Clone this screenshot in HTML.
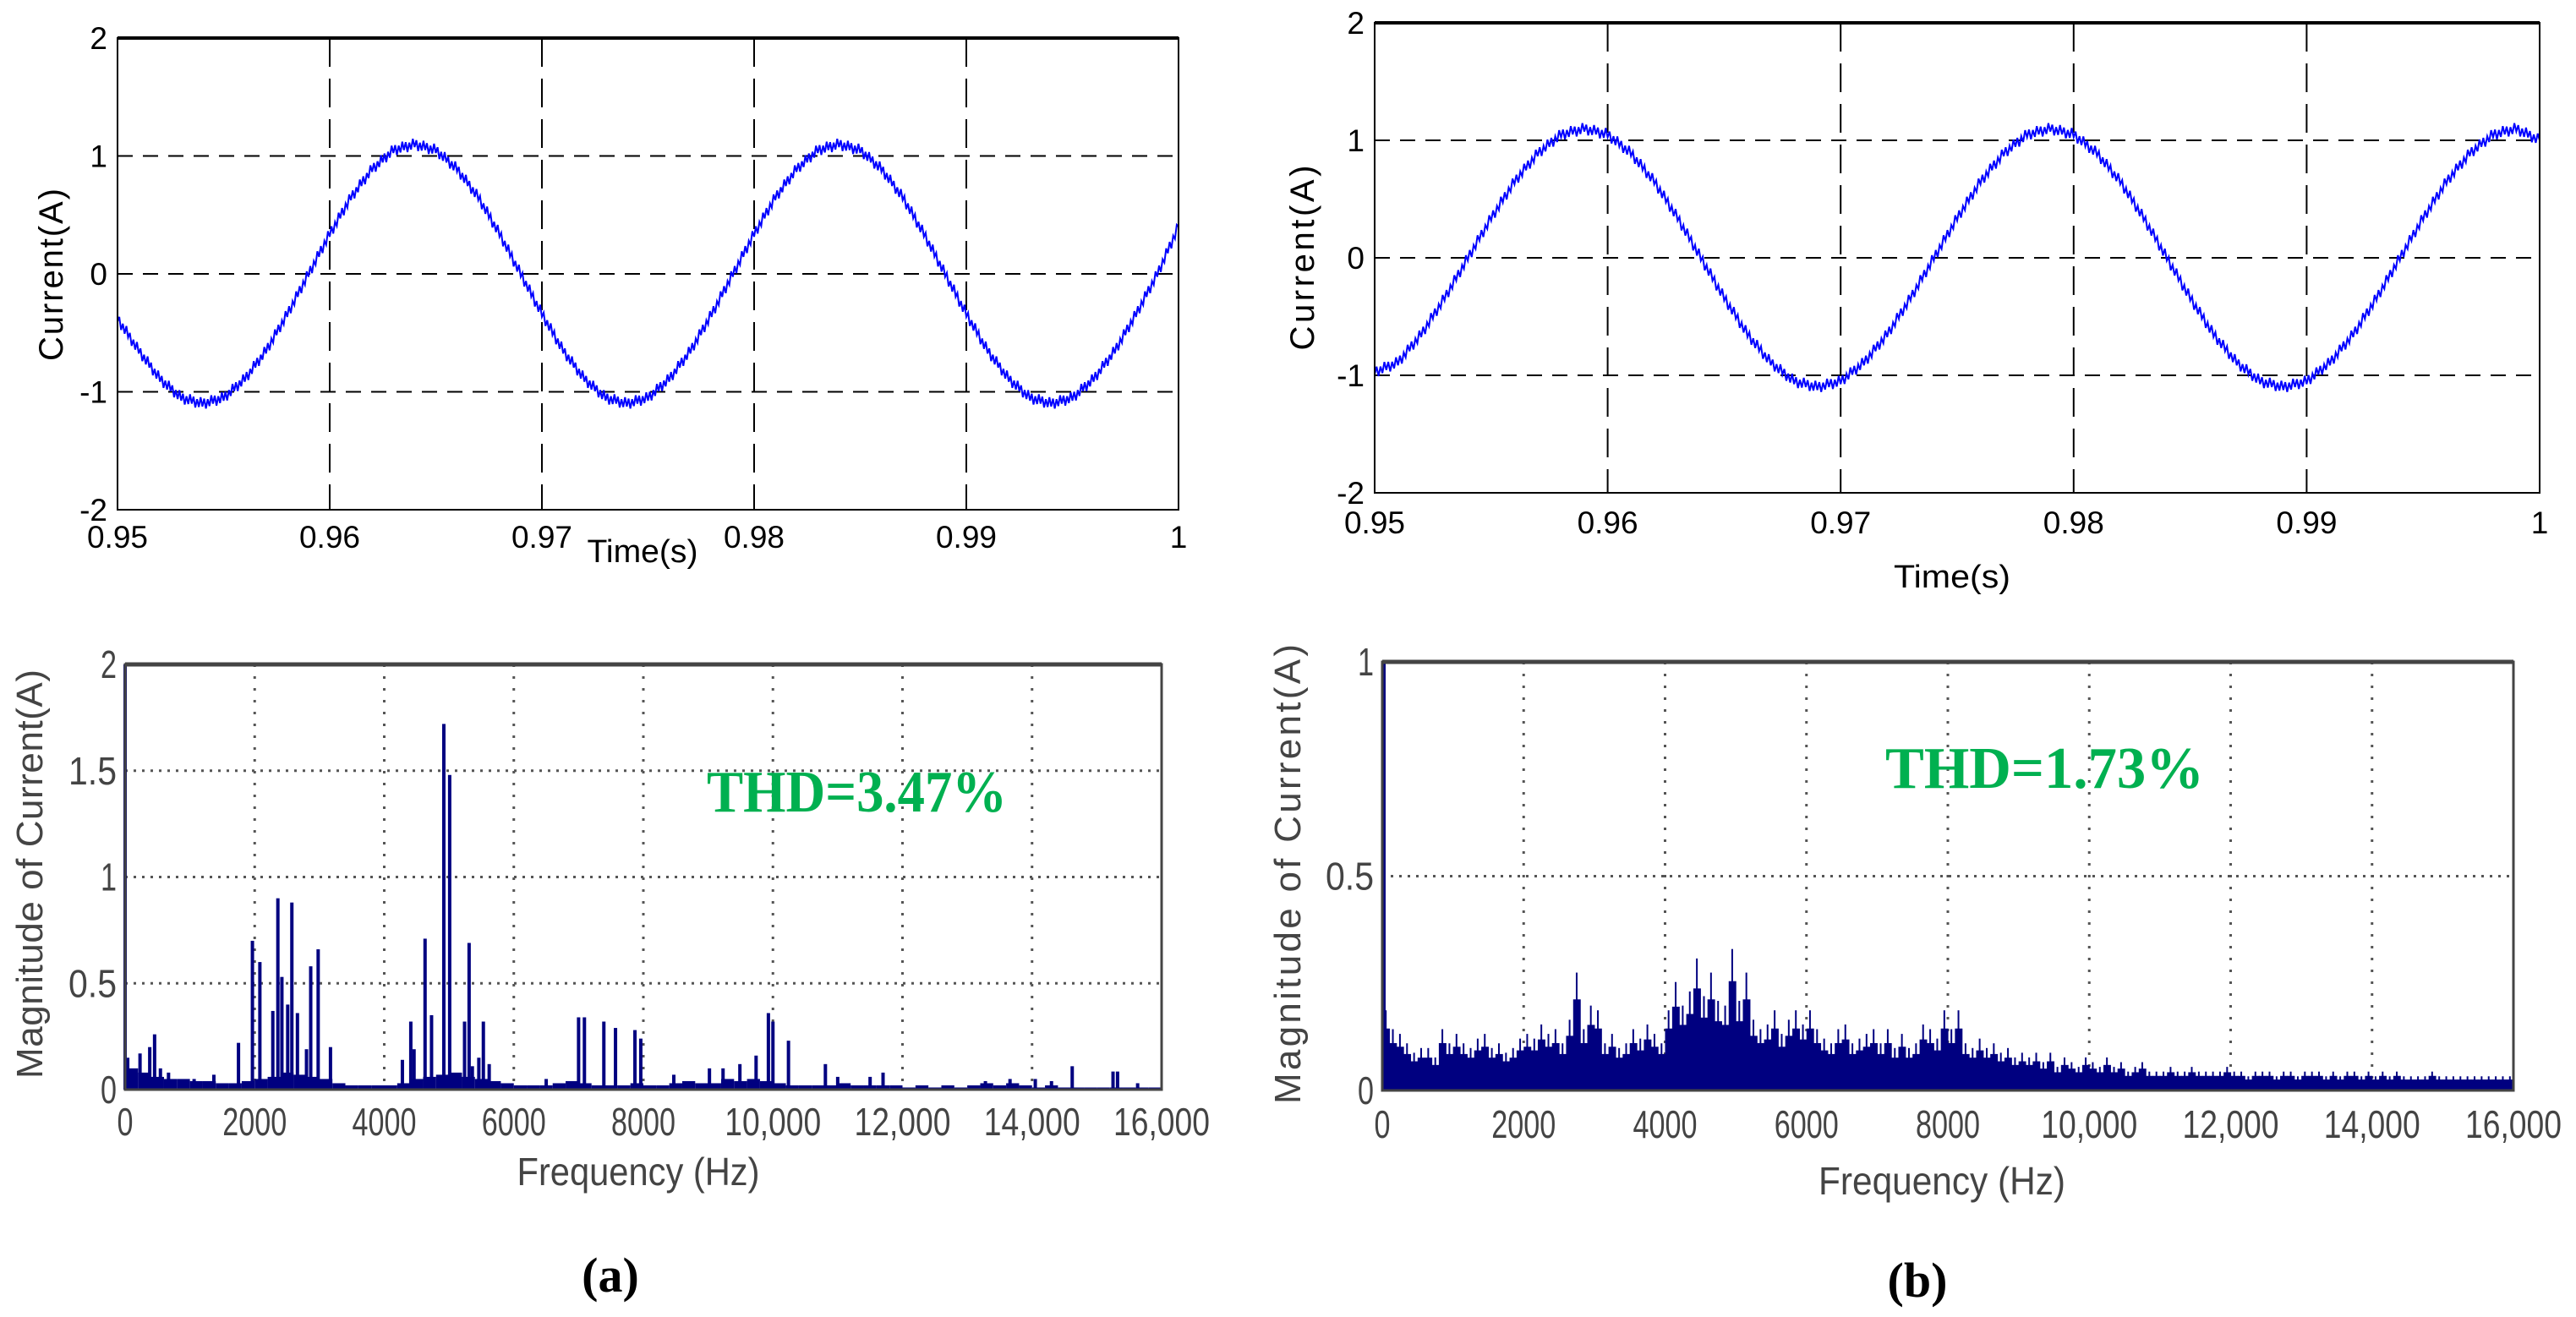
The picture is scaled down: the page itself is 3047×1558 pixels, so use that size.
<!DOCTYPE html>
<html><head><meta charset="utf-8"><style>
html,body{margin:0;padding:0;background:#fff;}
svg{display:block;}
text{font-family:"Liberation Sans",sans-serif;}
</style></head><body>
<svg id="fig" width="3047" height="1558" viewBox="0 0 3047 1558" xmlns="http://www.w3.org/2000/svg"></svg>
<script>
// ---------- data ----------
const timeTicks = [0.95,0.96,0.97,0.98,0.99,1];
const timeTickLabels = ["0.95","0.96","0.97","0.98","0.99","1"];
const curTicks = [-2,-1,0,1,2];
const curTickLabels = ["-2","-1","0","1","2"];
// current samples every 1 ms from 0.950 to 1.000
const currentA = [-0.38,-0.65,-0.89,-1.05,-1.1,-1.05,-0.89,-0.65,-0.34,0,0.34,0.65,0.89,1.05,1.1,1.05,0.89,0.65,0.34,0,-0.34,-0.65,-0.89,-1.05,-1.1,-1.05,-0.89,-0.65,-0.34,0,0.34,0.65,0.89,1.05,1.1,1.05,0.89,0.65,0.34,0,-0.34,-0.65,-0.89,-1.05,-1.1,-1.05,-0.89,-0.65,-0.34,0,0.4];
const currentB = [-0.97,-0.89,-0.65,-0.34,0,0.34,0.65,0.89,1.05,1.1,1.05,0.89,0.65,0.34,0,-0.34,-0.65,-0.89,-1.05,-1.1,-1.05,-0.89,-0.65,-0.34,0,0.34,0.65,0.89,1.05,1.1,1.05,0.89,0.65,0.34,0,-0.34,-0.65,-0.89,-1.05,-1.1,-1.05,-0.89,-0.65,-0.34,0,0.34,0.65,0.89,1.05,1.1,1.0];

const freqTicks = [0,2000,4000,6000,8000,10000,12000,14000,16000];
const freqTickLabels = ["0","2000","4000","6000","8000","10,000","12,000","14,000","16,000"];
const magTicksA = [0,0.5,1,1.5,2];
const magTickLabelsA = ["0","0.5","1","1.5","2"];
const magTicksB = [0,0.5,1];
const magTickLabelsB = ["0","0.5","1"];

// spectrum (a): distinct harmonic lines
const specAFreq = [0,40,230,380,455,545,670,1065,1370,1750,1965,2080,2280,2358,2420,2510,2574,2660,2800,2865,2980,3170,4280,4410,4460,4630,4730,4920,5010,5240,5310,5360,5460,5530,5620,6500,7000,7090,7390,7570,7870,7960,8470,9020,9230,9490,9740,9930,10000,10240,10810,11000,11500,11700,13280,13660,14050,14300,14620,15250,15320,15630];
const specAMag = [2.2,0.15,0.17,0.2,0.26,0.1,0.08,0.05,0.07,0.22,0.7,0.6,0.37,0.9,0.53,0.4,0.88,0.36,0.19,0.58,0.66,0.2,0.14,0.32,0.19,0.71,0.35,1.72,1.48,0.32,0.69,0.11,0.15,0.32,0.12,0.05,0.34,0.34,0.32,0.29,0.28,0.24,0.07,0.1,0.1,0.12,0.16,0.36,0.32,0.23,0.12,0.06,0.06,0.08,0.04,0.05,0.05,0.04,0.11,0.085,0.085,0.03];
// spectrum (a): noise floor, 200 Hz bins
const specAFloor = [0.1,0.08,0.06,0.05,0.05,0.04,0.04,0.03,0.03,0.04,0.05,0.06,0.08,0.07,0.06,0.05,0.03,0.02,0.02,0.02,0.02,0.03,0.05,0.06,0.07,0.08,0.06,0.05,0.04,0.03,0.02,0.02,0.02,0.03,0.04,0.03,0.02,0.02,0.02,0.03,0.02,0.02,0.03,0.04,0.03,0.03,0.05,0.04,0.05,0.04,0.03,0.02,0.02,0.02,0.02,0.03,0.02,0.02,0.02,0.02,0.01,0.02,0.01,0.02,0.01,0.02,0.03,0.02,0.03,0.02,0.01,0.02,0.01,0.01,0.01,0.01,0.01,0.01,0.01,0.01];
// spectrum (b): 100 Hz bins
const specB = [0.17,0.13,0.12,0.1,0.08,0.09,0.09,0.07,0.13,0.1,
0.12,0.1,0.09,0.11,0.12,0.09,0.1,0.08,0.09,0.11,
0.12,0.11,0.14,0.12,0.13,0.1,0.15,0.25,0.13,0.18,
0.17,0.1,0.12,0.09,0.1,0.13,0.11,0.14,0.12,0.1,
0.17,0.23,0.18,0.21,0.28,0.2,0.25,0.19,0.18,0.3,
0.19,0.25,0.15,0.13,0.14,0.17,0.12,0.15,0.17,0.14,
0.17,0.13,0.11,0.1,0.13,0.14,0.1,0.11,0.12,0.13,
0.1,0.13,0.09,0.12,0.09,0.1,0.14,0.13,0.11,0.17,
0.13,0.17,0.1,0.09,0.11,0.09,0.1,0.08,0.09,0.07,
0.08,0.07,0.08,0.06,0.08,0.05,0.07,0.06,0.05,0.07,
0.06,0.05,0.07,0.05,0.06,0.04,0.05,0.06,0.04,0.04,
0.04,0.05,0.04,0.04,0.05,0.04,0.04,0.04,0.04,0.05,
0.04,0.04,0.03,0.04,0.04,0.04,0.03,0.04,0.04,0.03,
0.04,0.04,0.04,0.03,0.04,0.03,0.04,0.04,0.03,0.04,
0.03,0.04,0.03,0.04,0.03,0.03,0.03,0.03,0.04,0.03,
0.03,0.03,0.03,0.03,0.03,0.03,0.03,0.03,0.03,0.03];
const specBFund = 1.05;

// ---------- helpers ----------
const NS = "http://www.w3.org/2000/svg";
const svg = document.getElementById('fig');
function mk(tag, attrs, parent){ const e=document.createElementNS(NS,tag); for(const k in attrs) e.setAttribute(k,attrs[k]); (parent||svg).appendChild(e); return e; }
function txt(s, attrs, parent){ const e=mk('text',attrs,parent); e.textContent=s; return e; }
function lin(d0,d1,r0,r1){ return v=> r0+(v-d0)*(r1-r0)/(d1-d0); }

// ---------- time-domain plot ----------
function timePlot(o, data){
  const g = mk('g',{});
  
  
  const X = lin(0.95,1,o.l,o.r), Y = lin(-2,2,o.b,o.t);
  curTicks.forEach((v,i)=>{
    if(v>-2 && v<2){ const l=mk('line',{x1:o.l,x2:o.r,y1:Y(v),y2:Y(v),stroke:'#000','stroke-width':2,'stroke-dasharray':'18 12'},g);
        }
    const t=txt(curTickLabels[i],{x:o.ytx,y:Y(v)+13,'text-anchor':'end','font-size':37,fill:'#000'},g);
     
  });
  timeTicks.forEach((v,i)=>{
    if(v>0.95 && v<1){ const l=mk('line',{x1:X(v),x2:X(v),y1:o.t,y2:o.b,stroke:'#000','stroke-width':2,'stroke-dasharray':'34 14'},g);
        }
    const t=txt(timeTickLabels[i],{x:X(v),y:o.xty,'text-anchor':'middle','font-size':37,fill:'#000'},g);
     
  });
  let pts=[];
  for(let i=0;i<data.length-1;i++){
    for(let k=0;k<12;k++){
      const f=k/12, t=0.95+(i+f)*0.001, v=data[i]+(data[i+1]-data[i])*f;
      const j=((i*12+k)%2?1:-1)*0.025*(1+((i*12+k)%3)*0.5);
      pts.push(X(t).toFixed(1)+','+Y(v+j).toFixed(1));
    }
  }
  pts.push(X(1)+','+Y(data[data.length-1]));
  const pl=mk('polyline',{points:pts.join(' '),fill:'none',stroke:'#0000ff','stroke-width':2},g);
   
  const fr=mk('rect',{x:o.l,y:o.t,width:o.r-o.l,height:o.b-o.t,fill:'none',stroke:'#000','stroke-width':2},g);
   
  mk('line',{x1:o.l,x2:o.r,y1:o.t,y2:o.t,stroke:'#000','stroke-width':4},g);
  const yl=txt('Current(A)',{x:0,y:0,'font-size':40,'text-anchor':'middle',textLength:o.ylLen,lengthAdjust:'spacing',transform:`translate(${o.ylx},${o.yly}) rotate(-90)`},g);
   
  const xl=txt('Time(s)',{x:o.xlx,y:o.xly,'font-size':38,'text-anchor':'middle',textLength:o.xlLen,lengthAdjust:'spacingAndGlyphs'},g);
   
}

timePlot({name:'current-plot-a',l:139,r:1394,t:45,b:603,ytx:127,xty:648,ylx:74,yly:325,ylLen:204,xlx:760,xly:665,xlLen:131}, currentA);
timePlot({name:'current-plot-b',l:1626,r:3004,t:27,b:583,ytx:1614,xty:631,ylx:1554,yly:305,ylLen:219,xlx:2309,xly:695,xlLen:138}, currentB);

// ---------- spectrum plot ----------
function specPlot(o){
  const g = mk('g',{});
  
  
  const X = lin(0,16000,o.l,o.r), Y = lin(0,o.ymax,o.b,o.t);
  o.yt.forEach((v,i)=>{
    if(v>0 && v<o.ymax){ const l=mk('line',{x1:o.l,x2:o.r,y1:Y(v),y2:Y(v),stroke:'#555','stroke-width':3,'stroke-dasharray':'3 7'},g);
        }
    const t=txt(o.ytl[i],{x:o.l-10,y:Y(v)+16,'text-anchor':'end','font-size':46,fill:'#444',textLength:o.ytl[i].length*19,lengthAdjust:'spacingAndGlyphs'},g);
     
  });
  freqTicks.forEach((v,i)=>{
    if(v>0 && v<16000){ const l=mk('line',{x1:X(v),x2:X(v),y1:o.t,y2:o.b,stroke:'#555','stroke-width':3,'stroke-dasharray':'3 11'},g);
        }
    const s=freqTickLabels[i];
    const t=txt(s,{x:X(v),y:o.xty,'text-anchor':'middle','font-size':46,fill:'#444',textLength:s.length*19,lengthAdjust:'spacingAndGlyphs'},g);
     
  });
  o.draw(g,X,Y);
  const fr=mk('rect',{x:o.l,y:o.t,width:o.r-o.l,height:o.b-o.t,fill:'none',stroke:'#444','stroke-width':3},g);
   
  mk('line',{x1:o.l,x2:o.r,y1:o.t,y2:o.t,stroke:'#444','stroke-width':5},g);
  const yl=txt('Magnitude of Current(A)',{x:0,y:0,'font-size':44,fill:'#444','text-anchor':'middle',textLength:o.ylLen,lengthAdjust:'spacing',transform:`translate(${o.ylx},${o.yly}) rotate(-90)`},g);
   
  const xl=txt('Frequency (Hz)',{x:o.xlx,y:o.xly,'font-size':46,fill:'#444','text-anchor':'middle',textLength:o.xlLen,lengthAdjust:'spacingAndGlyphs'},g);
   
  const th=txt(o.thd,{x:o.thx,y:o.thy,'font-size':70,'font-weight':'bold',fill:'#00b050','text-anchor':'start',textLength:o.thLen,lengthAdjust:'spacingAndGlyphs',style:'font-family:"Liberation Serif",serif'},g);
   
  const cp=txt(o.cap,{x:o.capx,y:o.capy,'font-size':58,'font-weight':'bold',fill:'#000','text-anchor':'middle',style:'font-family:"Liberation Serif",serif'},g);
   
}

specPlot({name:'spectrum-plot-a',l:148,r:1374,t:786,b:1289,ymax:2,yt:magTicksA,ytl:magTickLabelsA,xty:1343,
  ylx:50,yly:1034,ylLen:484,xlx:755,xly:1402,xlLen:287,thd:'THD=3.47%',thx:836,thy:960,thLen:355,cap:'(a)',capx:722,capy:1528,
  draw:(g,X,Y)=>{
    const bw=(X(200)-X(0));
    specAFloor.forEach((v,i)=>{
      const r=mk('rect',{x:X(i*200),y:Y(v),width:bw,height:Y(0)-Y(v),fill:'#000080'},g);
       
    });
    specAFreq.forEach((f,i)=>{
      const v=Math.min(specAMag[i],2);
      const r=mk('rect',{x:X(f)-2,y:Y(v),width:4,height:Y(0)-Y(v),fill:'#000080'},g);
       
    });
  }});

specPlot({name:'spectrum-plot-b',l:1635,r:2973,t:783,b:1290,ymax:1,yt:magTicksB,ytl:magTickLabelsB,xty:1346,
  ylx:1538,yly:1034,ylLen:544,xlx:2297,xly:1413,xlLen:292,thd:'THD=1.73%',thx:2230,thy:932,thLen:377,cap:'(b)',capx:2268,capy:1534,
  draw:(g,X,Y)=>{
    const bw=X(100)-X(0);
    specB.forEach((v,i)=>{
      const r=mk('rect',{x:X(i*100),y:Y(v*0.85),width:bw+0.6,height:Y(0)-Y(v*0.85),fill:'#000080'},g);
       
      const s=mk('line',{x1:X(i*100+50),x2:X(i*100+50),y1:Y(v*1.1),y2:Y(v*0.8),stroke:'#000080','stroke-width':2},g);
       
    });
    const fv=Math.min(specBFund,1);
    const f=mk('rect',{x:X(0),y:Y(fv),width:4,height:Y(0)-Y(fv),fill:'#000080'},g);
     
  }});
</script>
</body></html>
